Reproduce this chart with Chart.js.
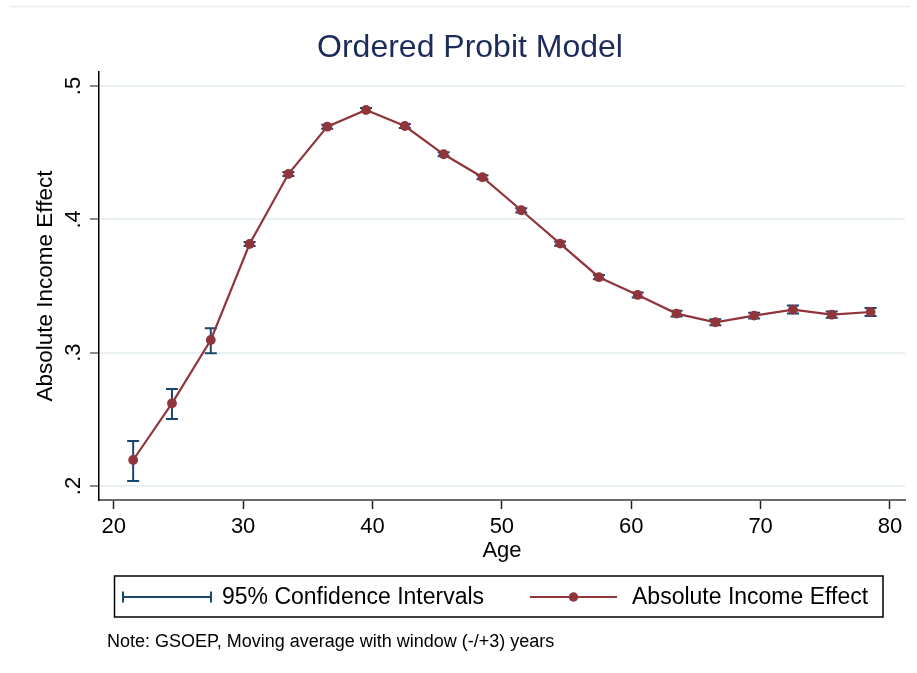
<!DOCTYPE html>
<html>
<head>
<meta charset="utf-8">
<script src="https://cdn.jsdelivr.net/npm/chart.js@4"></script>
<style>
  html, body { margin: 0; padding: 0; background: #fff; }
  #wrap { width: 917px; height: 673px; position: relative; }
</style>
</head>
<body>
<div id="wrap"><canvas id="probitChart"></canvas></div>
<script>
// Age bins (midpoints of the moving window)
const ages = [21.5, 24.5, 27.5, 30.5, 33.5, 36.5, 39.5, 42.5, 45.5, 48.5,
              51.5, 54.5, 57.5, 60.5, 63.5, 66.5, 69.5, 72.5, 75.5, 78.5];
// Absolute income effect
const effect = [0.2195, 0.2620, 0.3095, 0.3815, 0.4340, 0.4695, 0.4820, 0.4700, 0.4488, 0.4316,
                0.4068, 0.3818, 0.3566, 0.3433, 0.3293, 0.3228, 0.3278, 0.3323, 0.3285, 0.3305];
// 95% confidence bounds
const ciLow  = [0.2038, 0.2503, 0.2996, 0.3800, 0.4325, 0.4680, 0.4805, 0.4685, 0.4473, 0.4301,
                0.4052, 0.3802, 0.3550, 0.3414, 0.3271, 0.3206, 0.3256, 0.3293, 0.3261, 0.3275];
const ciHigh = [0.2338, 0.2728, 0.3183, 0.3830, 0.4355, 0.4710, 0.4835, 0.4715, 0.4503, 0.4331,
                0.4084, 0.3834, 0.3582, 0.3452, 0.3315, 0.3250, 0.3300, 0.3353, 0.3309, 0.3335];
const xTicks = [20, 30, 40, 50, 60, 70, 80];
const yTicks = [0.2, 0.3, 0.4, 0.5];

const FONT = "'Liberation Sans', Arial, Helvetica, sans-serif";
const NAVY = '#1a476f';
const MAROON = '#90353b';

// draws the confidence interval whiskers under the line
const ciBars = {
    id: 'ciBars',
    beforeDatasetsDraw(chart) {
        const ctx = chart.ctx;
        const xs = chart.scales.x, ys = chart.scales.y;
        ctx.save();
        ctx.strokeStyle = NAVY;
        ctx.lineWidth = 2;
        ages.forEach((a, i) => {
            const px = xs.getPixelForValue(a);
            const lo = ys.getPixelForValue(ciLow[i]);
            const hi = ys.getPixelForValue(ciHigh[i]);
            ctx.beginPath();
            ctx.moveTo(px, lo); ctx.lineTo(px, hi);
            ctx.moveTo(px - 6, lo); ctx.lineTo(px + 6, lo);
            ctx.moveTo(px - 6, hi); ctx.lineTo(px + 6, hi);
            ctx.stroke();
        });
        ctx.restore();
    }
};

// legend box, note and the faint frame line at the top
const extras = {
    id: 'extras',
    beforeDraw(chart) {
        const ctx = chart.ctx;
        ctx.save();
        ctx.strokeStyle = '#e6eef0';
        ctx.lineWidth = 1.5;
        ctx.beginPath();
        ctx.moveTo(9, 6.5); ctx.lineTo(910, 6.5);
        ctx.stroke();
        ctx.restore();
    },
    afterDraw(chart) {
        const ctx = chart.ctx;
        const ds = chart.data.datasets;
        const cy = 597;
        ctx.save();
        // box
        ctx.strokeStyle = '#000';
        ctx.lineWidth = 1.5;
        ctx.strokeRect(114.5, 576, 768.5, 41);

        // CI symbol
        ctx.strokeStyle = NAVY;
        ctx.lineWidth = 2;
        ctx.beginPath();
        ctx.moveTo(123, cy); ctx.lineTo(211, cy);
        ctx.moveTo(123, cy - 5.5); ctx.lineTo(123, cy + 5.5);
        ctx.moveTo(211, cy - 5.5); ctx.lineTo(211, cy + 5.5);
        ctx.stroke();

        // line symbol
        ctx.strokeStyle = MAROON;
        ctx.beginPath();
        ctx.moveTo(530, cy); ctx.lineTo(617, cy);
        ctx.stroke();
        ctx.fillStyle = MAROON;
        ctx.beginPath();
        ctx.arc(573.5, cy, 4.7, 0, Math.PI * 2);
        ctx.fill();

        ctx.fillStyle = '#000';
        ctx.font = '23px ' + FONT;
        ctx.textBaseline = 'middle';
        ctx.fillText(ds[1].label, 222, cy + 1);
        ctx.fillText(ds[0].label, 632, cy + 1);

        // note
        ctx.font = '18px ' + FONT;
        ctx.textBaseline = 'alphabetic';
        ctx.fillText('Note: GSOEP, Moving average with window (-/+3) years', 107, 647);
        ctx.restore();
    }
};

const ctx = document.getElementById('probitChart').getContext('2d');
new Chart(ctx, {
    type: 'line',
    data: {
        datasets: [{
            label: 'Absolute Income Effect',
            data: ages.map((a, i) => ({ x: a, y: effect[i] })),
            borderColor: MAROON,
            backgroundColor: MAROON,
            borderWidth: 2.2,
            pointRadius: 4.9,
            pointBorderWidth: 0,
            pointBackgroundColor: MAROON,
            tension: 0,
            fill: false
        }, {
            label: '95% Confidence Intervals', // drawn by ciBars
            data: [],
            borderColor: NAVY
        }]
    },
    options: {
        responsive: true,
        maintainAspectRatio: false,
        animation: false,
        layout: { padding: { left: 35, right: 12, top: 0, bottom: 110 } },
        plugins: {
            legend: { display: false },
            tooltip: { enabled: false },
            title: {
                display: true,
                text: 'Ordered Probit Model',
                color: '#1c2b59',
                font: { family: FONT, size: 32, weight: 'normal' },
                padding: { top: 29, bottom: 4.6 }
            }
        },
        scales: {
            x: {
                type: 'linear',
                min: 18.86,
                max: 81.16,
                afterBuildTicks: s => { s.ticks = xTicks.map(v => ({ value: v })); },
                afterFit: s => { s.height = 63; },
                grid: { drawOnChartArea: false, tickLength: 9, tickColor: '#222', tickWidth: 1.5 },
                border: { color: '#6b6b6b', width: 2 },
                ticks: {
                    color: '#000',
                    padding: 5,
                    maxRotation: 0,
                    font: { family: FONT, size: 22 }
                },
                title: {
                    display: true,
                    text: 'Age',
                    color: '#000',
                    font: { family: FONT, size: 22, lineHeight: 1 },
                    padding: { top: 0, bottom: 1 }
                }
            },
            y: {
                min: 0.1895,
                max: 0.5105,
                afterBuildTicks: s => { s.ticks = yTicks.map(v => ({ value: v })); },
                afterFit: s => { s.width = 64; },
                grid: { color: '#e8f0f2', lineWidth: 2, tickLength: 9, tickColor: '#666', tickWidth: 1.5 },
                border: { color: '#000', width: 1.5 },
                ticks: {
                    color: '#000',
                    padding: 7,
                    minRotation: 90,
                    maxRotation: 90,
                    crossAlign: 'center',
                    font: { family: FONT, size: 22 },
                    callback: v => String(Math.round(v * 10) / 10).replace(/^0/, '')
                },
                title: {
                    display: true,
                    text: 'Absolute Income Effect',
                    color: '#000',
                    font: { family: FONT, size: 22.5, lineHeight: 1 },
                    padding: { top: 0, bottom: 0 }
                }
            }
        }
    },
    plugins: [ciBars, extras]
});
</script>
</body>
</html>
